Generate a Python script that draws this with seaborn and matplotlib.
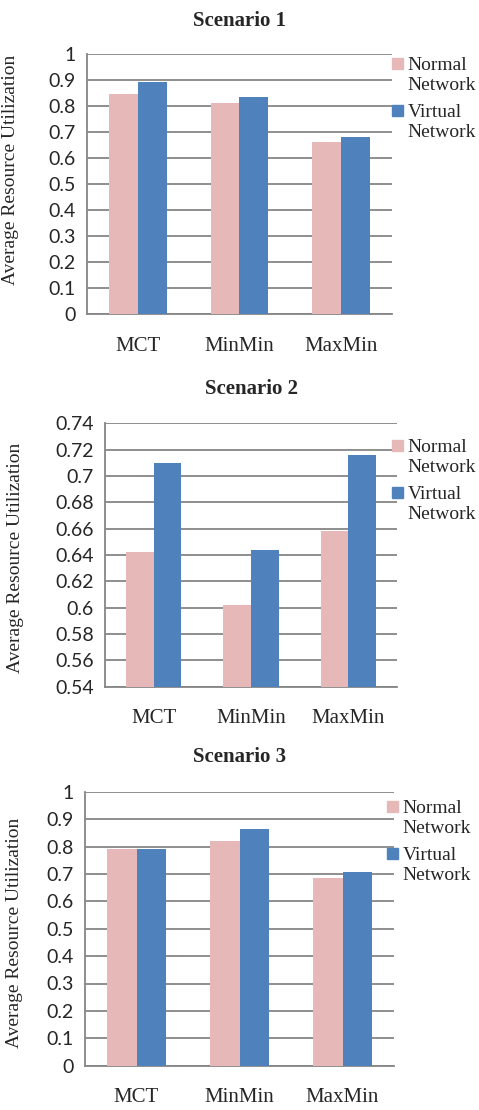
import numpy as np
import pandas as pd
import matplotlib
matplotlib.use("Agg")
import matplotlib.pyplot as plt
import seaborn as sns
from matplotlib.patches import Rectangle
from matplotlib.legend_handler import HandlerPatch

# 데이터
algorithms = ["MCT", "MinMin", "MaxMin"]
series_names = ["Normal Network", "Virtual Network"]
legend_labels = ["Normal\nNetwork", "Virtual\nNetwork"]

scenario1_normal = [0.845, 0.812, 0.662]
scenario1_virtual = [0.891, 0.833, 0.682]
scenario2_normal = [0.642, 0.602, 0.658]
scenario2_virtual = [0.710, 0.644, 0.716]
scenario3_normal = [0.790, 0.821, 0.684]
scenario3_virtual = [0.791, 0.865, 0.707]

titles = ["Scenario 1", "Scenario 2", "Scenario 3"]
yticks_01 = [0, 0.1, 0.2, 0.3, 0.4, 0.5, 0.6, 0.7, 0.8, 0.9, 1]
yticks_s2 = [0.54, 0.56, 0.58, 0.6, 0.62, 0.64, 0.66, 0.68, 0.7, 0.72, 0.74]

PINK = "#E6B9B8"
BLUE = "#4F81BD"
GRID = "#868686"
SERIF = "Liberation Serif"
palette = {series_names[0]: PINK, series_names[1]: BLUE}


def make_df(normal, virtual):
    return pd.DataFrame({
        "algorithm": algorithms * 2,
        "network": [series_names[0]] * 3 + [series_names[1]] * 3,
        "value": normal + virtual,
    })


def top_square(legend, orig_handle, xdescent, ydescent, width, height, fontsize):
    # 범례 사각형을 첫 줄에 맞춤
    size = 0.55 * fontsize
    return Rectangle((-xdescent, -ydescent + 0.62 * fontsize), size, size)


def draw_panel(fig, rect, normal, virtual, title, yticks, ylabel_xy, title_y, legend_xy):
    ax = fig.add_axes(rect)
    df = make_df(normal, virtual)
    sns.barplot(data=df, x="algorithm", y="value", hue="network", palette=palette,
                width=0.57, saturation=1, linewidth=0, ax=ax, legend=False, zorder=3)

    ax.set_ylim(yticks[0], yticks[-1])
    ax.set_yticks(yticks)
    ax.set_yticklabels([f"{t:g}" for t in yticks], fontfamily="Lato", fontsize=14)
    ax.set_xlim(-0.5, 2.5)
    ax.set_xticks(range(len(algorithms)))
    ax.set_xticklabels(algorithms, fontfamily=SERIF, fontsize=15)
    ax.set_xticks([-0.5, 0.5, 1.5, 2.5], minor=True)
    ax.tick_params(axis="x", which="major", length=0, pad=16)
    ax.tick_params(axis="x", which="minor", length=5, width=1.2, color=GRID, direction="out")
    ax.tick_params(axis="y", length=4, width=1.2, color=GRID, direction="out", pad=4)

    ax.set_axisbelow(True)
    ax.yaxis.grid(True, color=GRID, linewidth=1.3)
    ax.xaxis.grid(False)
    for side in ["top", "right"]:
        ax.spines[side].set_visible(False)
    for side in ["left", "bottom"]:
        ax.spines[side].set_color(GRID)
        ax.spines[side].set_linewidth(1.3)
    ax.set_facecolor("white")

    ax.set_xlabel("")
    ax.set_ylabel("Average Resource Utilization", fontfamily=SERIF, fontsize=14)
    ax.yaxis.set_label_coords(*ylabel_xy)

    fig.text(rect[0] + rect[2] / 2, title_y, title, ha="center", va="center",
             fontfamily=SERIF, fontweight="bold", fontsize=15)

    handles = [Rectangle((0, 0), 1, 1, color=PINK), Rectangle((0, 0), 1, 1, color=BLUE)]
    leg = fig.legend(handles, legend_labels, loc="upper left", bbox_to_anchor=legend_xy,
                     frameon=False, fontsize=14,
                     handlelength=0.55, handleheight=0.55, handletextpad=0.25,
                     labelspacing=0.55, borderpad=0, borderaxespad=0,
                     handler_map={Rectangle: HandlerPatch(patch_func=top_square)})
    for t in leg.get_texts():
        t.set_fontfamily(SERIF)
    return ax


sns.set_theme(style="white")
plt.rcParams["font.family"] = ["Lato", "DejaVu Sans"]

W, H = 479, 1110
fig = plt.figure(figsize=(W / 100, H / 100), dpi=100)
fig.patch.set_facecolor("white")


def px_rect(left, top, right, bottom):
    return [left / W, 1 - bottom / H, (right - left) / W, (bottom - top) / H]


draw_panel(fig, px_rect(87, 54, 392, 314.3), scenario1_normal, scenario1_virtual,
           titles[0], yticks_01, (-0.223, 0.554), 1 - 21 / H, (392 / W, 1 - 57 / H))
draw_panel(fig, px_rect(105, 423.3, 397, 686.7), scenario2_normal, scenario2_virtual,
           titles[1], yticks_s2, (-0.277, 0.489), 1 - 389 / H, (392 / W, 1 - 439 / H))
draw_panel(fig, px_rect(85, 791.7, 394, 1065.7), scenario3_normal, scenario3_virtual,
           titles[2], yticks_01, (-0.2, 0.484), 1 - 757 / H, (387 / W, 1 - 800 / H))

fig.savefig("out.png", dpi=100, facecolor="white")
